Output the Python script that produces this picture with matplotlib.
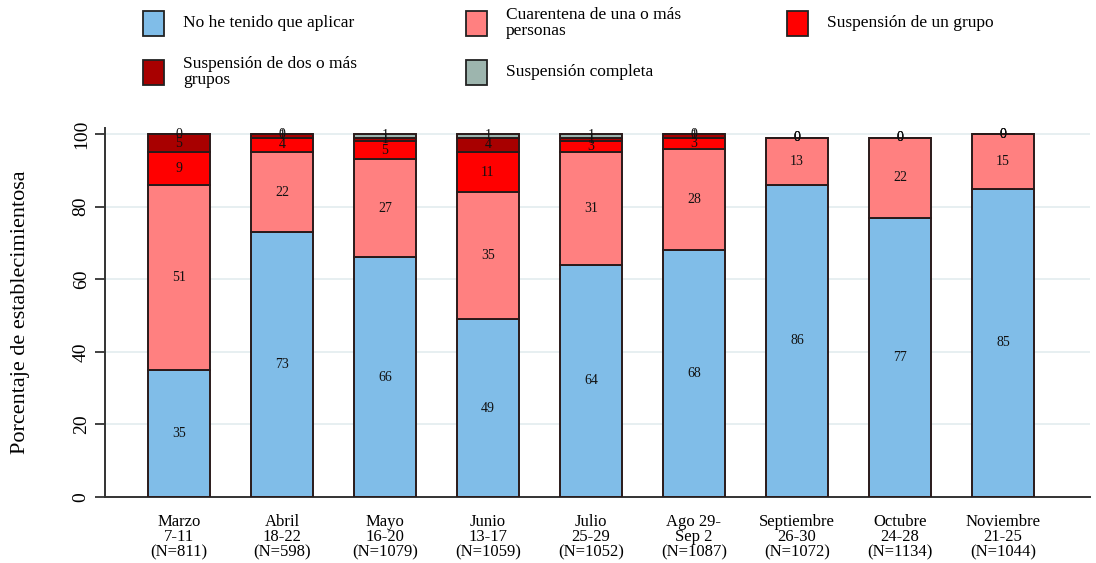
import matplotlib
matplotlib.use("Agg")
import matplotlib.pyplot as plt
from matplotlib.patches import Rectangle
import numpy as np

plt.rcParams["font.family"] = ["Liberation Serif", "DejaVu Serif"]

periodos = [
    "Marzo\n7-11\n(N=811)", "Abril\n18-22\n(N=598)", "Mayo\n16-20\n(N=1079)",
    "Junio\n13-17\n(N=1059)", "Julio\n25-29\n(N=1052)", "Ago 29-\nSep 2\n(N=1087)",
    "Septiembre\n26-30\n(N=1072)", "Octubre\n24-28\n(N=1134)", "Noviembre\n21-25\n(N=1044)",
]

# porcentajes por categoría
no_aplicar = [35, 73, 66, 49, 64, 68, 86, 77, 85]
cuarentena = [51, 22, 27, 35, 31, 28, 13, 22, 15]
susp_un_grupo = [9, 4, 5, 11, 3, 3, 0, 0, 0]
susp_dos_grupos = [5, 1, 1, 4, 1, 1, 0, 0, 0]
susp_completa = [0, 0, 1, 1, 1, 0, 0, 0, 0]

series = [no_aplicar, cuarentena, susp_un_grupo, susp_dos_grupos, susp_completa]
nombres = [
    "No he tenido que aplicar", "Cuarentena de una o más\npersonas",
    "Suspensión de un grupo", "Suspensión de dos o más\ngrupos", "Suspensión completa",
]
colores = ["#80bde8", "#ff8080", "#ff0000", "#a80000", "#9db5ae"]

fig = plt.figure(figsize=(10.96, 5.63), dpi=100)
ax = fig.add_axes([0.0958, 0.1172, 0.8987, 0.655])

x = np.arange(len(periodos))
bottom = np.zeros(len(periodos))
for vals, col in zip(series, colores):
    bars = ax.bar(x, vals, 0.6, bottom=bottom, color=col,
                  edgecolor="#2a1a1a", linewidth=1.4, zorder=3)
    ax.bar_label(bars, labels=[f"{v:.0f}" for v in vals], label_type="center",
                 fontsize=10, color="#111111", zorder=4)
    bottom += np.array(vals)

ax.set_xlim(-0.718, 8.845)
ax.set_ylim(0, 101.6)
ax.set_yticks([0, 20, 40, 60, 80, 100])
ax.yaxis.grid(True, color="#e3ecef", linewidth=1.2, zorder=0)
ax.set_axisbelow(True)
ax.set_xticks(x)
ax.set_xticklabels(periodos, fontsize=12, linespacing=0.95)
ax.tick_params(axis="x", length=0, pad=12)
ax.tick_params(axis="y", length=7, width=1.3, color="#333333", labelsize=14, pad=4)
for lab in ax.get_yticklabels():
    lab.set_rotation(90)
    lab.set_va("center")
for s in ["top", "right"]:
    ax.spines[s].set_visible(False)
for s in ["left", "bottom"]:
    ax.spines[s].set_color("#333333")
    ax.spines[s].set_linewidth(1.4)
ax.set_ylabel("Porcentaje de establecimientosa", fontsize=16)
ax.yaxis.set_label_coords(-0.076, 0.5)

# leyenda en tres columnas, ordenada por filas
col_x = [143, 466, 787]
fila_y = [23, 72]
W, H = 1096, 563
for i, (nombre, col) in enumerate(zip(nombres, colores)):
    cx = col_x[i % 3]
    cy = fila_y[i // 3]
    fig.add_artist(Rectangle(((cx) / W, 1 - (cy + 12.5) / H), 21 / W, 25 / H,
                             facecolor=col, edgecolor="#222222", linewidth=1.3,
                             transform=fig.transFigure))
    fig.text((cx + 40) / W, 1 - cy / H, nombre, fontsize=12.5, va="center",
             ha="left", linespacing=1.0)

fig.savefig("out.png", dpi=100)
